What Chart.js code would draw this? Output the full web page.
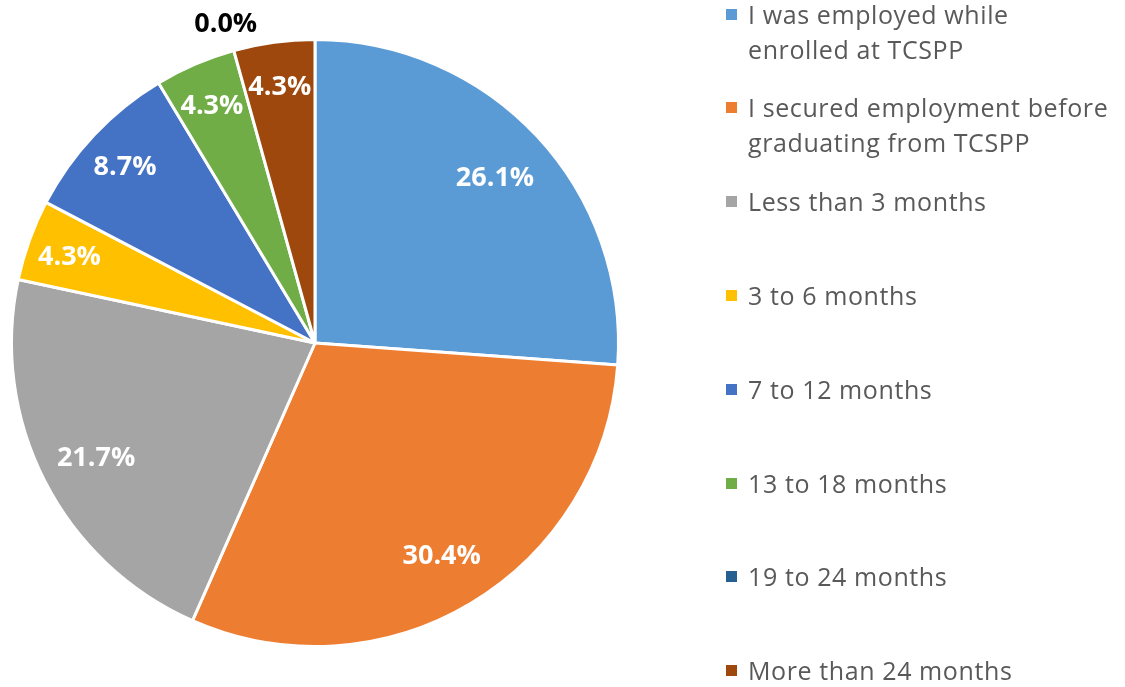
<!DOCTYPE html>
<html>
<head>
<meta charset="utf-8">
<script src="https://cdn.jsdelivr.net/npm/chart.js@4"></script>
<style>
  html, body { margin: 0; padding: 0; background: #fff; }
  #wrap { position: relative; width: 1125px; height: 687px; overflow: hidden; }
  #chartBox { position: absolute; left: 0; top: 0; width: 630px; height: 687px; }
  #legend { position: absolute; left: 0; top: 0; width: 1125px; height: 687px; pointer-events: none; }
  .item { position: absolute; left: 726px; display: flex; align-items: flex-start; }
  .sw { width: 11px; height: 11px; margin-top: 12px; margin-right: 11px; flex: none; }
  .txt { font-family: "Open Sans", sans-serif; font-size: 25px; letter-spacing: 0.6px; line-height: 35px; color: #595959; white-space: pre-line; }
</style>
</head>
<body>
<div id="wrap">
  <div id="chartBox"><canvas id="c"></canvas></div>
  <div id="legend"></div>
</div>
<script>
const categories = [
  'I was employed while\nenrolled at TCSPP',
  'I secured employment before\ngraduating from TCSPP',
  'Less than 3 months',
  '3 to 6 months',
  '7 to 12 months',
  '13 to 18 months',
  '19 to 24 months',
  'More than 24 months'
];
const values = [26.1, 30.4, 21.7, 4.3, 8.7, 4.3, 0.0, 4.3];
const colors = ['#5B9BD5', '#ED7D31', '#A5A5A5', '#FFC000', '#4472C4', '#70AD47', '#255E91', '#9E480E'];

const labelPlugin = {
  id: 'sliceLabels',
  afterDatasetsDraw(chart) {
    const ctx = chart.ctx;
    const meta = chart.getDatasetMeta(0);
    ctx.save();
    ctx.font = 'bold 27px "Open Sans", sans-serif';
    ctx.textAlign = 'center';
    ctx.textBaseline = 'middle';
    meta.data.forEach((el, i) => {
      const p = el.getProps(['x', 'y', 'startAngle', 'endAngle', 'outerRadius'], true);
      const mid = (p.startAngle + p.endAngle) / 2;
      const v = values[i];
      let f, color;
      if (v === 0) { f = 1.1; color = '#000000'; }
      else if (v > 15) { f = 0.81; color = '#ffffff'; }
      else { f = 0.86; color = '#ffffff'; }
      const r = p.outerRadius * f;
      ctx.fillStyle = color;
      ctx.fillText(v.toFixed(1) + '%', p.x + Math.cos(mid) * r, p.y + Math.sin(mid) * r + 3);
    });
    ctx.restore();
  }
};

new Chart(document.getElementById('c'), {
  type: 'pie',
  data: {
    labels: categories,
    datasets: [{
      data: values,
      backgroundColor: colors,
      borderColor: '#ffffff',
      borderWidth: 3,
      hoverOffset: 0
    }]
  },
  options: {
    responsive: true,
    maintainAspectRatio: false,
    animation: false,
    layout: { padding: { left: 5, right: 5, top: 38, bottom: 39 } },
    plugins: {
      legend: { display: false },
      tooltip: { enabled: false }
    }
  },
  plugins: [labelPlugin]
});

const legend = document.getElementById('legend');
categories.forEach((lab, i) => {
  const it = document.createElement('div');
  it.className = 'item';
  it.style.top = (-3.5 + 93.8 * i) + 'px';
  const sw = document.createElement('div');
  sw.className = 'sw';
  sw.style.background = colors[i];
  const tx = document.createElement('div');
  tx.className = 'txt';
  tx.textContent = lab;
  it.appendChild(sw);
  it.appendChild(tx);
  legend.appendChild(it);
});
</script>
</body>
</html>
